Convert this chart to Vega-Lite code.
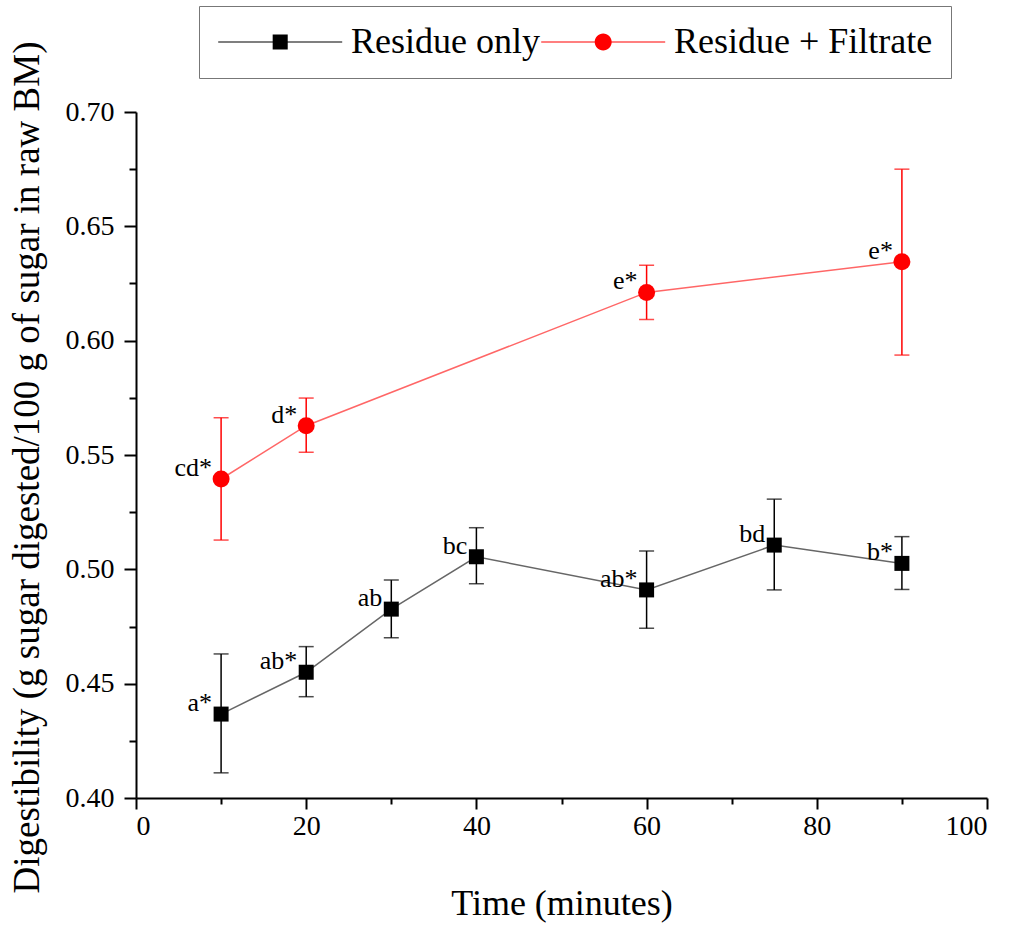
{
  "$schema": "https://vega.github.io/schema/vega-lite/v6.json",
  "autosize": {"type": "none"},
  "width": 851,
  "height": 686,
  "padding": {"left": 136, "top": 112, "right": 29, "bottom": 141},
  "background": "white",
  "config": {
    "view": {"stroke": null},
    "font": "Liberation Serif",
    "axis": {
      "labelFont": "Liberation Serif",
      "titleFont": "Liberation Serif",
      "labelColor": "black",
      "titleColor": "black",
      "domainColor": "black",
      "tickColor": "black",
      "grid": false,
      "titleFontWeight": "normal",
      "labelFontSize": 28,
      "titleFontSize": 36
    },
    "legend": {
      "labelFont": "Liberation Serif"
    }
  },
  "data": {
    "values": [
      {"series": "Residue only", "time": 10, "mean": 0.4367, "lo": 0.411, "hi": 0.463, "label": "a*"},
      {"series": "Residue only", "time": 20, "mean": 0.455, "lo": 0.4443, "hi": 0.4662, "label": "ab*"},
      {"series": "Residue only", "time": 30, "mean": 0.4826, "lo": 0.4701, "hi": 0.4953, "label": "ab"},
      {"series": "Residue only", "time": 40, "mean": 0.5055, "lo": 0.4937, "hi": 0.5182, "label": "bc"},
      {"series": "Residue only", "time": 60, "mean": 0.491, "lo": 0.4742, "hi": 0.508, "label": "ab*"},
      {"series": "Residue only", "time": 75, "mean": 0.5106, "lo": 0.491, "hi": 0.5307, "label": "bd"},
      {"series": "Residue only", "time": 90, "mean": 0.5026, "lo": 0.4912, "hi": 0.5143, "label": "b*"},
      {"series": "Residue + Filtrate", "time": 10, "mean": 0.5395, "lo": 0.5128, "hi": 0.5663, "label": "cd*"},
      {"series": "Residue + Filtrate", "time": 20, "mean": 0.5628, "lo": 0.5512, "hi": 0.5749, "label": "d*"},
      {"series": "Residue + Filtrate", "time": 60, "mean": 0.6211, "lo": 0.6093, "hi": 0.633, "label": "e*"},
      {"series": "Residue + Filtrate", "time": 90, "mean": 0.6345, "lo": 0.5937, "hi": 0.675, "label": "e*"}
    ]
  },
  "resolve": {"axis": {"x": "independent", "y": "independent"}},
  "layer": [
    {
      "mark": {"type": "line", "strokeWidth": 1.5, "opacity": 0.6},
      "encoding": {
        "x": {"field": "time", "type": "quantitative", "scale": {"domain": [0, 100], "nice": false},
              "axis": {"orient": "bottom", "values": [0, 20, 40, 60, 80, 100], "tickSize": 11, "tickWidth": 2, "domainWidth": 2, "labelPadding": 3, "title": "Time (minutes)", "titlePadding": 46}},
        "y": {"field": "mean", "type": "quantitative", "scale": {"domain": [0.4, 0.7], "nice": false, "zero": false},
              "axis": {"orient": "left", "values": [0.4, 0.45, 0.5, 0.55, 0.6, 0.65, 0.7], "format": ".2f", "tickSize": 12, "tickWidth": 2, "domainWidth": 2, "labelPadding": 10, "title": "Digestibility (g sugar digested/100 g of  sugar in raw BM)", "titleFontSize": 37, "titleY": 355, "titlePadding": 19}},
        "color": {"field": "series", "type": "nominal", "legend": null,
                  "scale": {"domain": ["Residue + Filtrate", "Residue only"], "range": ["#ff0000", "#000000"]}}
      }
    },
    {
      "mark": {"type": "rule", "strokeWidth": 1.5},
      "encoding": {
        "x": {"field": "time", "type": "quantitative",
              "axis": {"orient": "bottom", "values": [10, 30, 50, 70, 90], "tickSize": 6, "tickWidth": 2, "labels": false, "domain": false, "title": null}},
        "y": {"field": "lo", "type": "quantitative",
              "axis": {"orient": "left", "values": [0.425, 0.475, 0.525, 0.575, 0.625, 0.675], "tickSize": 7, "tickWidth": 2, "labels": false, "domain": false, "title": null}},
        "y2": {"field": "hi"},
        "color": {"field": "series", "type": "nominal", "legend": null}
      }
    },
    {
      "mark": {"type": "tick", "orient": "horizontal", "size": 15, "thickness": 1.5},
      "encoding": {
        "x": {"field": "time", "type": "quantitative", "axis": null},
        "y": {"field": "lo", "type": "quantitative", "axis": null},
        "color": {"field": "series", "type": "nominal", "legend": null}
      }
    },
    {
      "mark": {"type": "tick", "orient": "horizontal", "size": 15, "thickness": 1.5},
      "encoding": {
        "x": {"field": "time", "type": "quantitative", "axis": null},
        "y": {"field": "hi", "type": "quantitative", "axis": null},
        "color": {"field": "series", "type": "nominal", "legend": null}
      }
    },
    {
      "transform": [{"filter": "datum.series === 'Residue only'"}],
      "mark": {"type": "point", "filled": true, "opacity": 1, "size": 225, "shape": "square"},
      "encoding": {
        "x": {"field": "time", "type": "quantitative", "axis": null},
        "y": {"field": "mean", "type": "quantitative", "axis": null},
        "color": {"field": "series", "type": "nominal", "legend": null}
      }
    },
    {
      "transform": [{"filter": "datum.series === 'Residue + Filtrate'"}],
      "mark": {"type": "point", "filled": true, "opacity": 1, "size": 289, "shape": "circle"},
      "encoding": {
        "x": {"field": "time", "type": "quantitative", "axis": null},
        "y": {"field": "mean", "type": "quantitative", "axis": null},
        "color": {"field": "series", "type": "nominal", "legend": null}
      }
    },
    {
      "mark": {"type": "point", "filled": true, "size": 0, "opacity": 1},
      "encoding": {
        "x": {"field": "time", "type": "quantitative", "axis": null},
        "y": {"field": "mean", "type": "quantitative", "axis": null},
        "fill": {"field": "series", "type": "nominal",
                 "scale": {"domain": ["Residue only", "Residue + Filtrate"], "range": ["#000000", "#ff0000"]},
                 "legend": {
                   "orient": "none", "legendX": 63, "legendY": -106, "direction": "horizontal",
                   "title": null, "labelFont": "Liberation Serif", "labelFontSize": 36, "labelColor": "black",
                   "labelLimit": 500, "labelOffset": 98, "columnPadding": 0, "symbolSize": 256,
                   "symbolOpacity": 1, "symbolStrokeWidth": 0,
                   "strokeColor": "#777777", "fillColor": "white", "padding": 18
                 }},
        "shape": {"field": "series", "type": "nominal",
                  "scale": {"domain": ["Residue only", "Residue + Filtrate"],
                            "range": ["M-2.1,-0.07H13.4V0.07H-2.1ZM4.71,-0.94H6.59V0.94H4.71Z",
                                      "M-2.1,-0.07H13.4V0.07H-2.1ZM4.59,0A1.06,1.06,0,1,1,6.71,0A1.06,1.06,0,1,1,4.59,0Z"]}}
      }
    },
    {
      "mark": {"type": "text", "align": "right", "baseline": "alphabetic", "dx": -9, "dy": -3, "fontSize": 26, "font": "Liberation Serif", "color": "black"},
      "encoding": {
        "x": {"field": "time", "type": "quantitative", "axis": null},
        "y": {"field": "mean", "type": "quantitative", "axis": null},
        "text": {"field": "label"}
      }
    }
  ]
}
